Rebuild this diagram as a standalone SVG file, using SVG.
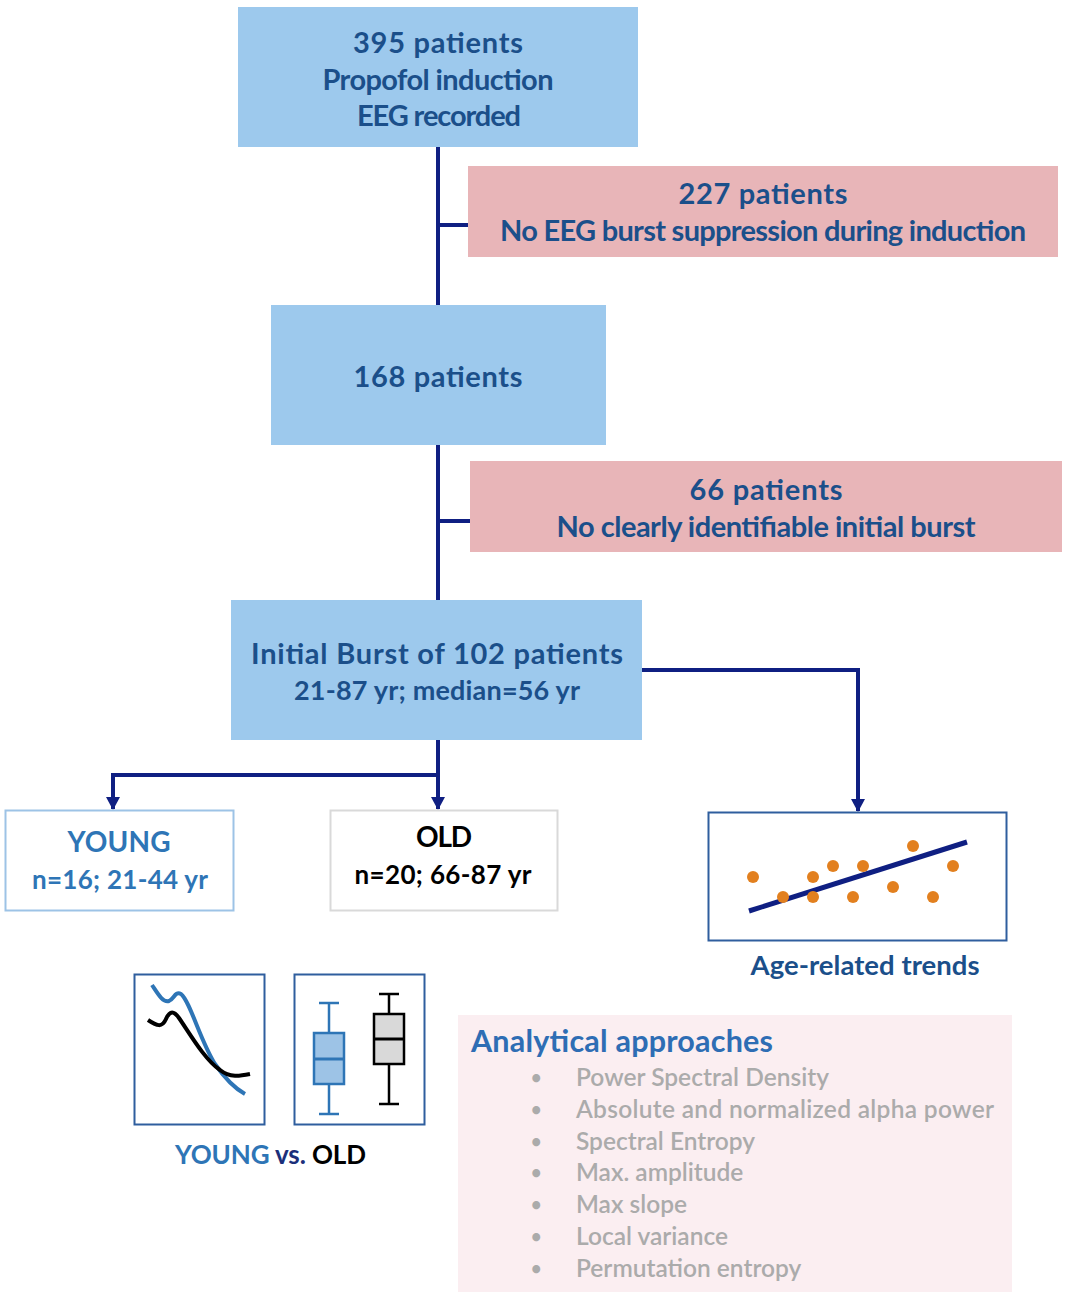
<svg xmlns="http://www.w3.org/2000/svg" width="1071" height="1300" viewBox="0 0 1071 1300">
<defs>
<style>
text{font-family:Lato,"Open Sans","Liberation Sans",sans-serif;font-weight:bold}
.blue{fill:#9DC9ED}
.pink{fill:#E8B5B8}
.t{fill:#1B4F8A;font-size:29px;text-anchor:middle}
.t2{fill:#1B4F8A;font-size:27px;text-anchor:middle}
.con{stroke:#0F1F82;stroke-width:4;fill:none}
.item{fill:#ABABAB;font-size:24.5px;font-weight:600}
.bul{fill:#ABABAB;font-size:18px}
</style>
<marker id="ah" markerWidth="14" markerHeight="14" refX="12" refY="7" orient="auto" markerUnits="userSpaceOnUse" viewBox="0 0 14 14">
<path d="M0,0 L13,7 L0,14 Z" fill="#0F1F82"/>
</marker>
</defs>
<rect width="1071" height="1300" fill="#fff"/>

<g id="connectors">
<path class="con" d="M438,147 V305 M438,225 H468"/>
<path class="con" d="M438,445 V600 M438,521 H470"/>
<path class="con" d="M438,740 V775 H113 V809" marker-end="url(#ah)"/>
<path class="con" d="M438,775 V809" marker-end="url(#ah)"/>
<path class="con" d="M642,670 H858 V811" marker-end="url(#ah)"/>
</g>

<g id="n395">
<rect class="blue" x="238" y="7" width="400" height="140"/>
<text class="t" x="438" y="53" textLength="170">395 patients</text>
<text class="t" x="438" y="90" textLength="231">Propofol induction</text>
<text class="t" x="439" y="126" textLength="164">EEG recorded</text>
</g>

<g id="n227">
<rect class="pink" x="468" y="166" width="590" height="91"/>
<text class="t" x="763" y="204" textLength="169">227 patients</text>
<text class="t" x="763" y="241" textLength="526">No EEG burst suppression during induction</text>
</g>

<g id="n168">
<rect class="blue" x="271" y="305" width="335" height="140"/>
<text class="t" x="438" y="387" textLength="169">168 patients</text>
</g>

<g id="n66">
<rect class="pink" x="470" y="461" width="592" height="91"/>
<text class="t" x="766" y="500" textLength="153">66 patients</text>
<text class="t" x="766" y="537" textLength="419">No clearly identifiable initial burst</text>
</g>

<g id="n102">
<rect class="blue" x="231" y="600" width="411" height="140"/>
<text class="t" x="437" y="664" textLength="372">Initial Burst of 102 patients</text>
<text class="t2" x="437" y="700" textLength="286">21-87 yr; median=56 yr</text>
</g>

<g id="young">
<rect x="5.5" y="810.5" width="228" height="100" fill="#fff" stroke="#9DC3E6" stroke-width="2"/>
<text x="119" y="852" style="fill:#2E75B6;font-size:28px;text-anchor:middle" textLength="103">YOUNG</text>
<text x="120" y="889" style="fill:#2E75B6;font-size:26px;text-anchor:middle" textLength="176">n=16; 21-44 yr</text>
</g>

<g id="old">
<rect x="330.5" y="810.5" width="227" height="100" fill="#fff" stroke="#D9D9D9" stroke-width="2"/>
<text x="444" y="847" style="fill:#000;font-size:28px;text-anchor:middle" textLength="56">OLD</text>
<text x="443" y="884" style="fill:#000;font-size:26px;text-anchor:middle" textLength="177">n=20; 66-87 yr</text>
</g>

<g id="trends">
<rect x="708.5" y="812.5" width="298" height="128" fill="#fff" stroke="#2F5E9E" stroke-width="2"/>
<line x1="749" y1="911" x2="967" y2="842" stroke="#0F1F82" stroke-width="5"/>
<g fill="#E2801F">
<circle cx="753" cy="877" r="6"/><circle cx="783" cy="897" r="6"/><circle cx="813" cy="877" r="6"/>
<circle cx="813" cy="897" r="6"/><circle cx="833" cy="866" r="6"/><circle cx="853" cy="897" r="6"/>
<circle cx="863" cy="866" r="6"/><circle cx="893" cy="887" r="6"/><circle cx="913" cy="846" r="6"/>
<circle cx="933" cy="897" r="6"/><circle cx="953" cy="866" r="6"/>
</g>
<text x="865" y="975" style="fill:#1B4F8A;font-size:27.5px;text-anchor:middle" textLength="229">Age-related trends</text>
</g>

<g id="psd">
<rect x="134.5" y="974.5" width="130" height="150" fill="#fff" stroke="#2F5E9E" stroke-width="2"/>
<path d="M152,985 C158,994 163,1003 169,1001 C174,999 175,991 181,994 C190,1001 200,1040 215,1064 C226,1080 236,1089 245,1094" fill="none" stroke="#2E75B6" stroke-width="4"/>
<path d="M148,1020 C157,1026 162,1028 166,1019 C170,1010 174,1011 179,1018 C190,1034 205,1060 220,1070 C230,1078 240,1076 250,1074" fill="none" stroke="#000" stroke-width="4"/>
</g>

<g id="box">
<rect x="294.5" y="974.5" width="130" height="150" fill="#fff" stroke="#2F5E9E" stroke-width="2"/>
<g stroke="#2E75B6" stroke-width="2.5">
<line x1="329" y1="1003" x2="329" y2="1114"/>
<line x1="319" y1="1003" x2="339" y2="1003"/>
<line x1="319" y1="1114" x2="339" y2="1114"/>
<rect x="314" y="1033" width="30" height="51" fill="#9DC3E6"/>
<line x1="314" y1="1059" x2="344" y2="1059" stroke-width="3"/>
</g>
<g stroke="#000" stroke-width="2.5">
<line x1="389" y1="994" x2="389" y2="1104"/>
<line x1="379" y1="994" x2="399" y2="994"/>
<line x1="379" y1="1104" x2="399" y2="1104"/>
<rect x="374" y="1014" width="30" height="50" fill="#D9D9D9"/>
<line x1="374" y1="1039" x2="404" y2="1039" stroke-width="3"/>
</g>
<text x="175" y="1164" style="font-size:26px" textLength="191"><tspan fill="#2E75B6">YOUNG </tspan><tspan fill="#1B2F7A">vs. </tspan><tspan fill="#000">OLD</tspan></text>
</g>

<g id="analytical">
<rect x="458" y="1015" width="554" height="277" fill="#FBEEF1"/>
<text x="471" y="1052" style="fill:#2E6DB4;font-size:30.5px" textLength="302">Analytical approaches</text>
<g class="bul">
<text class="bul" x="531" y="1084">•</text>
<text class="bul" x="531" y="1116">•</text>
<text class="bul" x="531" y="1148">•</text>
<text class="bul" x="531" y="1179">•</text>
<text class="bul" x="531" y="1211">•</text>
<text class="bul" x="531" y="1243">•</text>
<text class="bul" x="531" y="1275">•</text>
</g>
<text class="item" x="576" y="1086" textLength="253">Power Spectral Density</text>
<text class="item" x="576" y="1118" textLength="418">Absolute and normalized alpha power</text>
<text class="item" x="576" y="1150">Spectral Entropy</text>
<text class="item" x="576" y="1181">Max. amplitude</text>
<text class="item" x="576" y="1213">Max slope</text>
<text class="item" x="576" y="1245">Local variance</text>
<text class="item" x="576" y="1277">Permutation entropy</text>
</g>
</svg>
